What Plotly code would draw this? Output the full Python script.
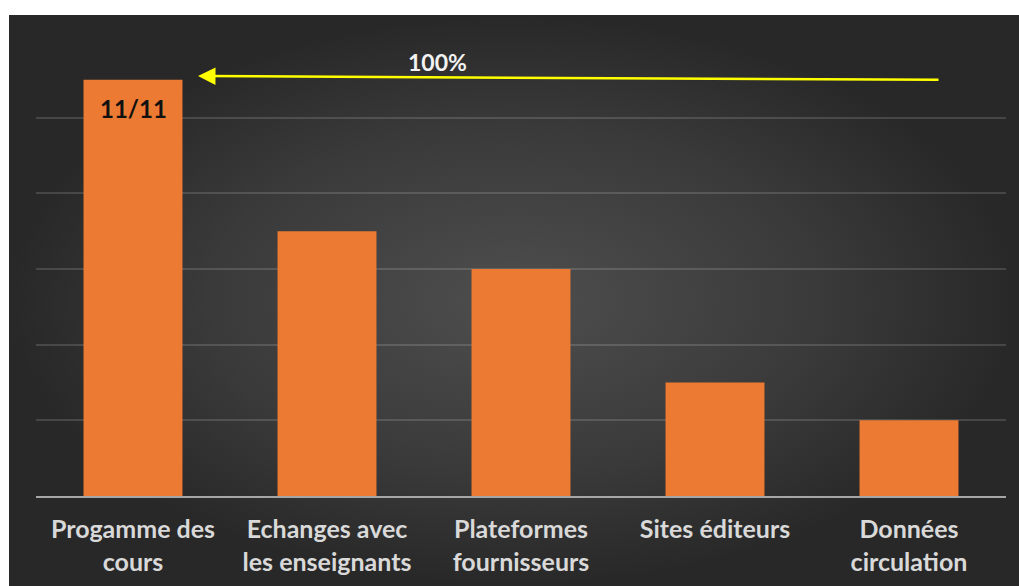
import plotly.graph_objects as go

# Sources consulted and number of respondents citing each
categories = ["Progamme des<br>cours", "Echanges avec<br>les enseignants",
              "Plateformes<br>fournisseurs", "Sites éditeurs", "Données<br>circulation"]
counts = [11, 7, 6, 3, 2]
total = 11
y_ticks = [0, 2, 4, 6, 8, 10, 12]

FONT = "Lato"
BAR_COLOR = "#ec7a32"

fig = go.Figure()

# Dark radial-gradient backdrop, on a full-size helper subplot (x/y)
fig.add_trace(go.Scatter(
    x=[0, 1, 1, 0, 0], y=[0, 0, 1, 1, 0],
    mode="lines", fill="toself", line=dict(width=0),
    fillgradient=dict(type="radial",
                      colorscale=[[0, "#4e4e4e"], [0.6, "#3a3a3a"], [1, "#282828"]]),
    hoverinfo="skip", showlegend=False, xaxis="x", yaxis="y",
))

# Bars on the inner subplot (x2/y2)
fig.add_trace(go.Bar(
    x=categories, y=counts, width=0.51,
    marker=dict(color=BAR_COLOR, line=dict(width=0)),
    showlegend=False, xaxis="x2", yaxis="y2",
))

# Value label inside the top of the tallest bar
fig.add_annotation(
    x=categories[0], y=counts[0], xref="x2", yref="y2",
    text=f"<b>{counts[0]}/{total}</b>", showarrow=False,
    yanchor="top", yshift=-12,
    font=dict(family=FONT, size=24, color="#111111"),
)

# Yellow arrow pointing back to the first bar, with its caption
fig.add_annotation(
    x=0.335, y=11.1, ax=4.16, ay=11.0,
    xref="x2", yref="y2", axref="x2", ayref="y2",
    text="", showarrow=True, arrowhead=2, arrowsize=1.4,
    arrowwidth=2.5, arrowcolor="#ffff00",
)
fig.add_annotation(
    x=1.567, y=11.47, xref="x2", yref="y2",
    text="<b>100%</b>", showarrow=False,
    font=dict(family=FONT, size=23, color="#f2f2f2"),
)

fig.update_layout(
    width=1019, height=586,
    margin=dict(l=9, r=0, t=15, b=0),
    paper_bgcolor="#ffffff", plot_bgcolor="rgba(0,0,0,0)",
    bargap=0.49,
    xaxis=dict(domain=[0, 1], range=[0, 1], visible=False, fixedrange=True),
    yaxis=dict(domain=[0, 1], range=[0, 1], visible=False, fixedrange=True),
    xaxis2=dict(
        domain=[27 / 1010, 997 / 1010], anchor="y2",
        range=[-0.5, 4.5], showgrid=False, zeroline=False,
        showline=True, linecolor="#a6a6a6", linewidth=2,
        ticks="", ticklabelstandoff=10,
        tickfont=dict(family=FONT, size=25, color="#d9d9d9", weight="bold"),
    ),
    yaxis2=dict(
        domain=[90 / 571, 544 / 571], anchor="x2",
        range=[0, 12], tickvals=y_ticks, showticklabels=False,
        showgrid=True, gridcolor="rgba(255,255,255,0.14)", gridwidth=1.5,
        zeroline=False, showline=False,
    ),
    font=dict(family=FONT),
)

fig.write_html("out.html")
